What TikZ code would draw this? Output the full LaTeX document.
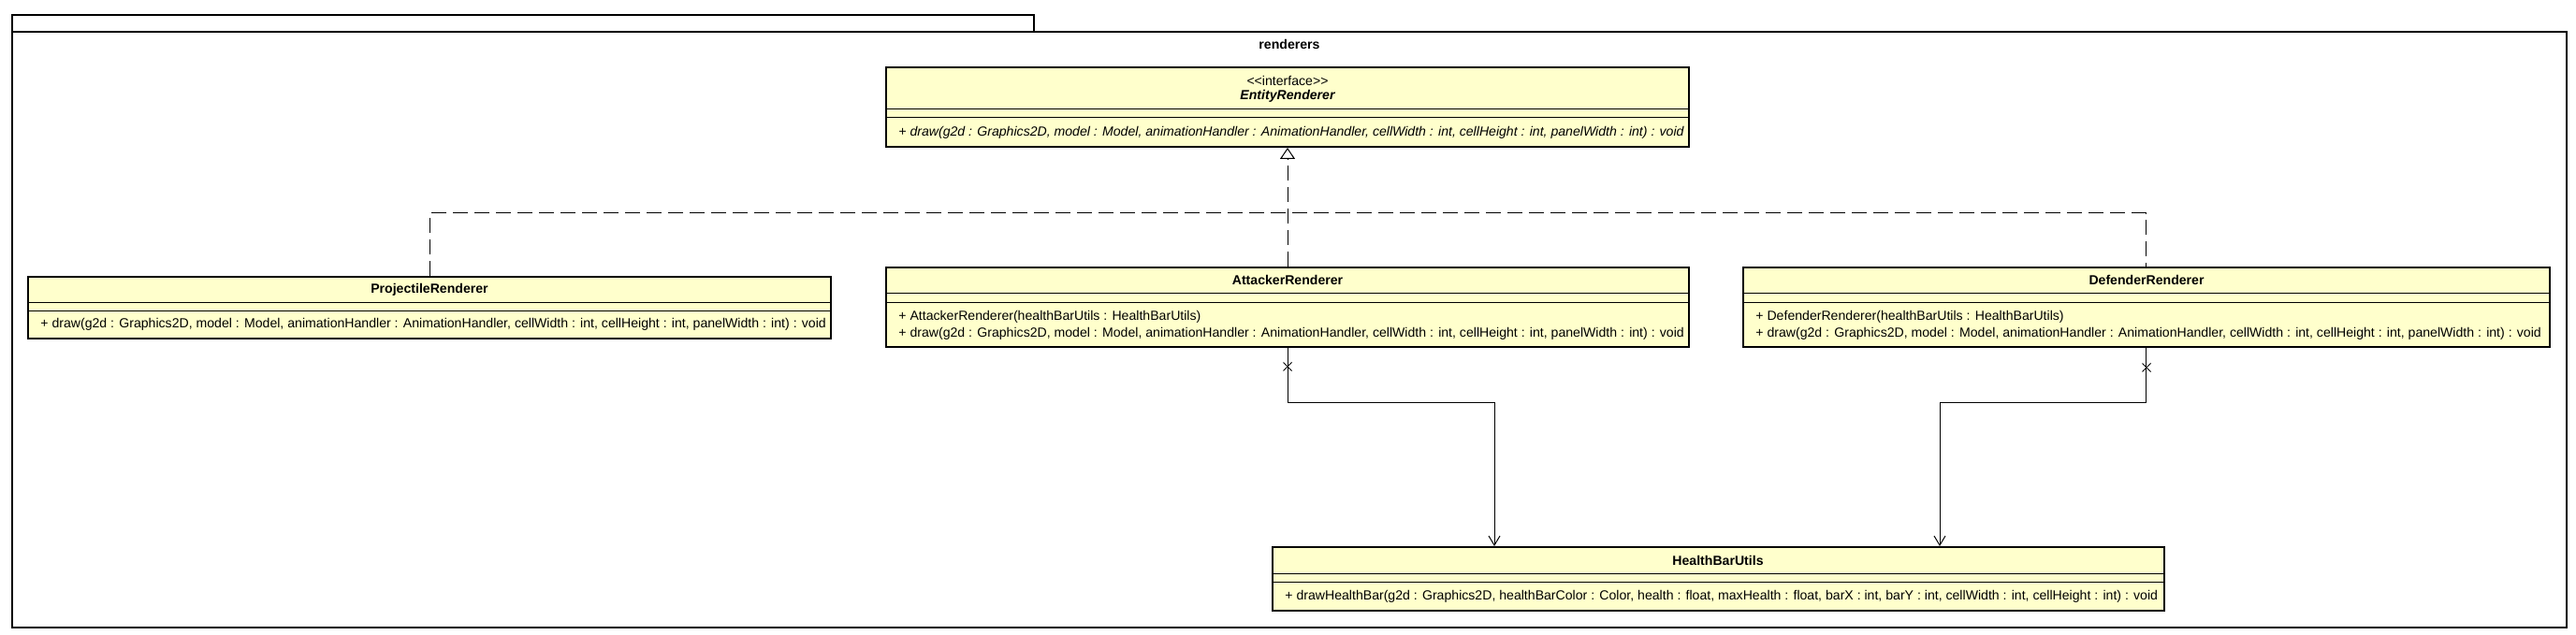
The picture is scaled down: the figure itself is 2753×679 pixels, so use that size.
\documentclass[tikz,border=0pt]{standalone}
\usepackage{fontspec}
\setmainfont{Liberation Sans}
\usetikzlibrary{arrows.meta,shapes.misc}
\definecolor{classfill}{RGB}{255,255,204}
\begin{document}
\begin{tikzpicture}
			[x=0.5pt,y=-0.5pt,
			font=\fontsize{7.05}{8.5}\selectfont,
			umlbox/.style={rectangle,draw,line width=1pt,fill=classfill,inner sep=0pt},
			divider/.style={line width=0.5pt},
			classname/.style={font=\fontsize{7.05}{8.5}\selectfont\bfseries,inner sep=0pt},
			member/.style={anchor=west,inner sep=0pt},
			realize/.style={line width=0.5pt,dash pattern=on 8pt off 3.5pt},
			assoc/.style={line width=0.5pt,-{Straight Barb[length=5pt,width=6pt]}},
			xmark/.style={cross out,draw,line width=0.5pt,minimum size=4pt,inner sep=0pt}]
			\useasboundingbox (0,0) rectangle (2753,679);

			\node[rectangle,draw,line width=1pt,anchor=north west,minimum width=546pt,minimum height=8.85pt,inner sep=0pt] (tab) at (12,15) {};
			\node[rectangle,draw,line width=1pt,anchor=north west,minimum width=1365pt,minimum height=318.65pt,inner sep=0pt] (pkg) at (12,32.7) {};
			\node[classname] (pkgname) at (1378,47) {renderers};

			\node[umlbox,minimum width=429pt,minimum height=42.5pt] (entity) at (1376,114.5) {};
			\node[umlbox,minimum width=429pt,minimum height=32.85pt] (projectile) at (459,328.85) {};
			\node[umlbox,minimum width=429pt,minimum height=42.35pt] (attacker) at (1376,328.35) {};
			\node[umlbox,minimum width=430.85pt,minimum height=42.35pt] (defender) at (2293.85,328.35) {};
			\node[umlbox,minimum width=476.35pt,minimum height=34pt] (health) at (1836.35,619) {};

			\draw[divider] (947,116.7) -- (1805,116.7);
			\draw[divider] (947,126) -- (1805,126);
			\draw[divider] (30,323.7) -- (888,323.7);
			\draw[divider] (30,332.7) -- (888,332.7);
			\draw[divider] (947,313.3) -- (1805,313.3);
			\draw[divider] (947,323.3) -- (1805,323.3);
			\draw[divider] (1863,313.3) -- (2724.7,313.3);
			\draw[divider] (1863,323.3) -- (2724.7,323.3);
			\draw[divider] (1360,613) -- (2312.7,613);
			\draw[divider] (1360,622.7) -- (2312.7,622.7);

			\node[inner sep=0pt] (entity-stereo) at (1376,86) {\textless\kern0pt\textless interface\textgreater\kern0pt\textgreater};
			\node[classname,font=\fontsize{7.05}{8.5}\selectfont\bfseries\itshape] (entity-name) at (1376,103) {EntityRenderer};
			\node[member,font=\fontsize{7.05}{8.5}\selectfont\itshape] (entity-draw) at (960,141.5) {+ draw(g2d : Graphics2D, model : Model, animationHandler : AnimationHandler, cellWidth : int, cellHeight : int, panelWidth : int) : void};

			\node[classname] (projectile-name) at (459,310) {ProjectileRenderer};
			\node[member] (projectile-draw) at (43,347) {+ draw(g2d : Graphics2D, model : Model, animationHandler : AnimationHandler, cellWidth : int, cellHeight : int, panelWidth : int) : void};

			\node[classname] (attacker-name) at (1376,299.5) {AttackerRenderer};
			\node[member] (attacker-ctor) at (960,339.3) {+ AttackerRenderer(healthBarUtils : HealthBarUtils)};
			\node[member] (attacker-draw) at (960,357.3) {+ draw(g2d : Graphics2D, model : Model, animationHandler : AnimationHandler, cellWidth : int, cellHeight : int, panelWidth : int) : void};

			\node[classname] (defender-name) at (2294,299.5) {DefenderRenderer};
			\node[member] (defender-ctor) at (1876,339.3) {+ DefenderRenderer(healthBarUtils : HealthBarUtils)};
			\node[member] (defender-draw) at (1876,357.3) {+ draw(g2d : Graphics2D, model : Model, animationHandler : AnimationHandler, cellWidth : int, cellHeight : int, panelWidth : int) : void};

			\node[classname] (health-name) at (1836,599) {HealthBarUtils};
			\node[member] (health-draw) at (1373,638) {+ drawHealthBar(g2d : Graphics2D, healthBarColor : Color, health : float, maxHealth : float, barX : int, barY : int, cellWidth : int, cellHeight : int) : void};

			\coordinate (bus) at (1376,228);
			\coordinate (aknee) at (1597,430);
			\coordinate (dknee) at (2073,430);

			\draw[realize,-{Triangle[open,length=6pt,width=8pt]}] (attacker.north) -- (entity.south);
			\draw[realize] (projectile.north) |- (bus) -| (defender.north);

			\draw[assoc] (attacker.south) |- (aknee) -- (aknee |- health.north);
			\draw[assoc] (defender.south) |- (dknee) -- (dknee |- health.north);
			\node[xmark] (attacker-x) at (1376,392) {};
			\node[xmark] (defender-x) at (2294,393) {};
		\end{tikzpicture}
\end{document}
